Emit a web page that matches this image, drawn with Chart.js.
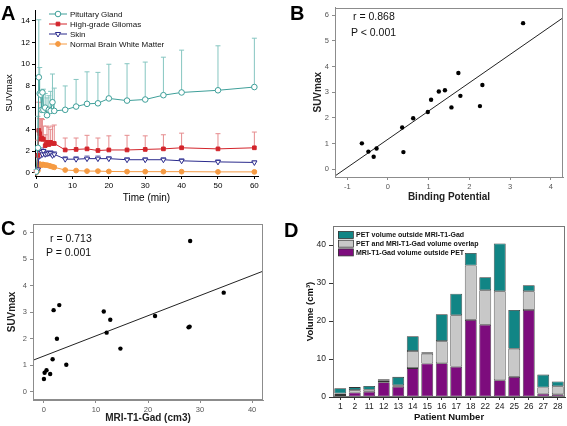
<!DOCTYPE html>
<html lang="en">
<head>
  <meta charset="UTF-8">
  <title>SUVmax panels</title>
  <script src="https://cdn.jsdelivr.net/npm/chart.js"></script>
  <style>
    body { margin: 0; width: 567px; height: 426px; position: relative; overflow: hidden; background: #fff;
           font-family: "Liberation Sans", Arial, sans-serif; }
    canvas { position: absolute; }
    .letter { position: absolute; font-weight: bold; font-size: 20px; line-height: 20px; color: #000; }
    .note { position: absolute; font-size: 10.5px; line-height: 12px; color: #111; }
  </style>
</head>
<body>
  <canvas id="chartA" width="283" height="212" style="left:0;top:0"></canvas>
  <canvas id="chartB" width="284" height="212" style="left:283px;top:0"></canvas>
  <canvas id="chartC" width="283" height="214" style="left:0;top:212px"></canvas>
  <canvas id="chartD" width="284" height="214" style="left:283px;top:212px"></canvas>

  <div class="letter" style="left:1px;top:3px">A</div>
  <div class="letter" style="left:290px;top:3px">B</div>
  <div class="letter" style="left:1px;top:218px">C</div>
  <div class="letter" style="left:284px;top:220px">D</div>
  <div class="note" style="left:353px;top:10px">r = 0.868</div>
  <div class="note" style="left:351px;top:26px">P &lt; 0.001</div>
  <div class="note" style="left:50px;top:232px">r = 0.713</div>
  <div class="note" style="left:46px;top:246px">P = 0.001</div>

  <script>
    /* Panel A: time activity curves (mean and top of error bar) */
    const times = [0, 0.5, 0.75, 1, 1.25, 1.5, 1.75, 2, 2.5, 3, 3.5, 4, 4.5, 5, 8, 11, 14, 17, 20, 25, 30, 35, 40, 50, 60]
    const pituitary = [0.1, 2.3, 8.8, 7.3, 7.2, 5.8, 7.4, 5.8, 6.0, 5.3, 5.8, 5.7, 6.5, 5.7, 5.8, 6.1, 6.35, 6.4, 6.85, 6.65, 6.75, 7.15, 7.4, 7.6, 7.9]
    const pituitaryTop = [0.3, 5.2, 14.1, 9.7, 7.5, 7.6, 7.6, 7.7, 7.3, 6.9, 7.1, 7.5, 9.1, 7.8, 8.0, 8.6, 9.3, 9.25, 10.0, 10.05, 10.2, 10.65, 11.3, 11.7, 12.4]
    const glioma = [0.1, 1.6, 3.9, 3.6, 3.1, 3.2, 3.1, 3.1, 2.5, 2.8, 2.6, 2.8, 2.7, 2.7, 2.1, 2.15, 2.2, 2.05, 2.1, 2.1, 2.15, 2.2, 2.3, 2.2, 2.3]
    const gliomaTop = [0.2, 3.0, 6.5, 5.0, 5.0, 5.0, 4.9, 4.3, 3.5, 4.3, 4.2, 4.0, 4.3, 4.4, 3.2, 3.2, 3.45, 3.2, 3.4, 3.45, 3.4, 3.5, 3.65, 3.6, 3.75]
    const skin = [0.05, 0.3, 1.5, 1.8, 1.6, 1.9, 1.7, 2.0, 1.7, 1.75, 1.8, 1.8, 1.6, 1.7, 1.25, 1.25, 1.3, 1.3, 1.3, 1.2, 1.2, 1.2, 1.1, 1.0, 0.95]
    const skinTop = [0.1, 0.5, 1.8, 2.1, 1.9, 2.2, 2.0, 2.3, 2.0, 2.0, 2.05, 2.05, 1.9, 1.95, 1.5, 1.5, 1.55, 1.55, 1.5, 1.4, 1.4, 1.4, 1.3, 1.2, 1.1]
    const whiteMatter = [0, 0.2, 0.6, 0.8, 0.75, 0.7, 0.75, 0.75, 0.7, 0.7, 0.65, 0.6, 0.55, 0.5, 0.25, 0.2, 0.15, 0.15, 0.12, 0.1, 0.1, 0.1, 0.1, 0.08, 0.08]
    const whiteMatterTop = [0.05, 0.3, 0.75, 0.95, 0.9, 0.85, 0.9, 0.9, 0.85, 0.85, 0.8, 0.75, 0.7, 0.65, 0.35, 0.3, 0.25, 0.25, 0.2, 0.18, 0.18, 0.18, 0.17, 0.15, 0.15]
    const timeTicks = [0, 10, 20, 30, 40, 50, 60]
    const suvTicksA = [0, 2, 4, 6, 8, 10, 12, 14]

    /* Panel B: binding potential vs SUVmax */
    const bindingPotential = [-0.64, -0.48, -0.35, -0.28, 0.35, 0.38, 0.62, 0.98, 1.06, 1.25, 1.40, 1.56, 1.73, 1.78, 2.26, 2.32, 3.32]
    const suvB = [1.01, 0.69, 0.49, 0.81, 1.63, 0.67, 1.99, 2.23, 2.71, 3.03, 3.08, 2.41, 3.75, 2.86, 2.46, 3.28, 5.69]
    const fitBx = [-1.3, 4.3]
    const fitBy = [-0.26, 5.9]
    const bpTicks = [-1, 0, 1, 2, 3, 4]
    const suvTicks = [0, 1, 2, 3, 4, 5, 6]

    /* Panel C: MRI-T1-Gad volume vs SUVmax */
    const gadVolume = [0, 0.13, 0.5, 1.2, 1.67, 1.86, 2.5, 2.95, 4.3, 11.5, 12.05, 12.75, 14.7, 21.35, 27.8, 28.0, 28.1, 34.55]
    const suvC = [0.48, 0.72, 0.81, 0.67, 1.23, 3.08, 2.0, 3.27, 1.02, 3.03, 2.23, 2.72, 1.63, 2.86, 2.43, 2.46, 5.69, 3.74]
    const fitCx = [-2.1, 42.1]
    const fitCy = [1.19, 4.55]
    const gadTicks = [0, 10, 20, 30, 40]

    /* Panel D: volumes per patient */
    const patients = ["1", "2", "11", "12", "13", "14", "15", "16", "17", "18", "22", "24", "25", "26", "27", "28"]
    const mriOutsidePet = [0.5, 1.2, 1.4, 3.9, 2.7, 7.6, 8.8, 8.9, 8.0, 20.3, 19.0, 4.4, 5.3, 22.9, 0.9, 0.7]
    const overlap = [0.4, 0.6, 0.5, 0.4, 0.4, 4.5, 2.6, 5.8, 13.5, 14.3, 9.1, 23.4, 7.4, 4.9, 1.6, 2.1]
    const petOutsideMri = [1.4, 0.8, 1.0, 0.4, 2.2, 3.9, 0.4, 7.1, 5.7, 3.3, 3.4, 12.6, 10.2, 1.6, 3.4, 1.3]
    const volumeTicks = [0, 10, 20, 30, 40]

    const FONT = '"Liberation Sans", Arial, sans-serif'
    Chart.defaults.font.family = FONT
    Chart.defaults.color = '#000'

    const pairs = (xs, ys) => xs.map((x, i) => ({ x: x, y: ys[i] }))
    const fixTicks = list => scale => { scale.ticks = list.map(v => ({ value: v })) }

    /* draws the upper error bar of each point */
    const errorBars = {
      id: 'errorBars',
      beforeDatasetsDraw(chart) {
        const ctx = chart.ctx
        const yScale = chart.scales.y
        chart.data.datasets.forEach((ds, i) => {
          if (!ds.upper) return
          const meta = chart.getDatasetMeta(i)
          ctx.save()
          ctx.strokeStyle = ds.errColor
          ctx.lineWidth = 1
          meta.data.forEach((pt, j) => {
            const top = yScale.getPixelForValue(ds.upper[j])
            ctx.beginPath()
            ctx.moveTo(pt.x, pt.y)
            ctx.lineTo(pt.x, top)
            ctx.moveTo(pt.x - 2.5, top)
            ctx.lineTo(pt.x + 2.5, top)
            ctx.stroke()
          })
          ctx.restore()
        })
      }
    }

    /* legend with line + marker, inside panel A */
    const lineLegend = {
      id: 'lineLegend',
      afterDraw(chart, args, opts) {
        const ctx = chart.ctx
        ctx.save()
        chart.data.datasets.forEach((ds, i) => {
          const y = opts.y + i * opts.gap
          ctx.strokeStyle = ds.borderColor
          ctx.lineWidth = 1
          ctx.beginPath()
          ctx.moveTo(opts.x, y)
          ctx.lineTo(opts.x + 18, y)
          ctx.stroke()
          ctx.fillStyle = ds.pointBackgroundColor
          ctx.strokeStyle = ds.pointBorderColor
          Chart.helpers.drawPoint(ctx, {
            pointStyle: ds.pointStyle, rotation: ds.pointRotation || 0,
            radius: ds.pointRadius, borderWidth: 1
          }, opts.x + 9, y)
          ctx.fillStyle = '#111'
          ctx.font = '8px ' + FONT
          ctx.textBaseline = 'middle'
          ctx.fillText(ds.label, opts.x + 21, y + 0.5)
        })
        ctx.restore()
      }
    }

    /* box round the plot area */
    const frame = {
      id: 'frame',
      afterDraw(chart, args, opts) {
        const { left, top, right, bottom } = chart.chartArea
        const ctx = chart.ctx
        ctx.save()
        ctx.strokeStyle = opts.color
        ctx.lineWidth = 1
        ctx.strokeRect(Math.round(left) + 0.5, Math.round(top) + 0.5, Math.round(right - left) - 1, Math.round(bottom - top) - 1)
        ctx.restore()
      }
    }

    /* box legend, inside panel D */
    const boxLegend = {
      id: 'boxLegend',
      afterDraw(chart, args, opts) {
        const ctx = chart.ctx
        const sets = chart.data.datasets.slice().reverse()
        ctx.save()
        sets.forEach((ds, i) => {
          const y = opts.y + i * opts.gap
          ctx.fillStyle = ds.backgroundColor
          ctx.strokeStyle = '#333'
          ctx.lineWidth = 0.8
          ctx.fillRect(opts.x, y - 3.5, 15, 7)
          ctx.strokeRect(opts.x + 0.5, y - 3.5, 15, 7)
          ctx.fillStyle = '#111'
          ctx.font = 'bold 7px ' + FONT
          ctx.textBaseline = 'middle'
          ctx.fillText(ds.label, opts.x + 18, y + 0.5)
        })
        ctx.restore()
      }
    }

    const baseOptions = {
      responsive: false,
      animation: false,
      devicePixelRatio: 1,
      events: [],
    }

    /* Panel A */
    const seriesA = (label, values, tops, color, errColor, style, fill, radius, rotation) => ({
      label: label,
      data: pairs(times, values),
      upper: tops,
      errColor: errColor,
      showLine: true,
      borderColor: color,
      borderWidth: 1,
      pointStyle: style,
      pointRotation: rotation || 0,
      pointRadius: radius,
      pointBorderWidth: 1,
      pointBorderColor: color,
      pointBackgroundColor: fill,
    })

    new Chart(document.getElementById('chartA'), {
      type: 'scatter',
      data: {
        datasets: [
          seriesA('Pituitary Gland', pituitary, pituitaryTop, '#3e9f99', '#86c6c1', 'circle', '#fff', 2.8),
          seriesA('High-grade Gliomas', glioma, gliomaTop, '#d3242b', '#e68c8e', 'rect', '#d3242b', 2.6),
          seriesA('Skin', skin, skinTop, '#2a2a8c', '#8a8ac4', 'triangle', '#fff', 3, 180),
          seriesA('Normal Brain White Matter', whiteMatter, whiteMatterTop, '#f59a42', '#f9c995', 'circle', '#f59a42', 2.4),
        ]
      },
      options: Object.assign({}, baseOptions, {
        layout: { padding: { left: 0, top: 10, right: 25, bottom: 0 } },
        plugins: {
          legend: { display: false },
          tooltip: { enabled: false },
          lineLegend: { x: 49, y: 14, gap: 10 },
        },
        scales: {
          x: {
            type: 'linear', min: -0.3, max: 61,
            afterBuildTicks: fixTicks(timeTicks),
            afterFit: s => { s.height = 36 },
            grid: { drawOnChartArea: false, drawTicks: true, tickLength: 3, tickColor: '#000' },
            border: { display: true, color: '#000' },
            ticks: { font: { size: 8 }, padding: 2, maxRotation: 0 },
            title: { display: true, text: 'Time (min)', font: { size: 10 }, padding: { top: 0, bottom: 8 } },
          },
          y: {
            type: 'linear', min: -0.3, max: 15,
            afterBuildTicks: fixTicks(suvTicksA),
            afterFit: s => { s.width = 35 },
            grid: { drawOnChartArea: false, drawTicks: true, tickLength: 3, tickColor: '#000' },
            border: { display: true, color: '#000' },
            ticks: { font: { size: 8 }, padding: 2 },
            title: { display: true, text: 'SUVmax', font: { size: 9.5 }, padding: { top: 4, bottom: 0 } },
          },
        }
      }),
      plugins: [errorBars, lineLegend],
    })

    /* Panels B and C share one style */
    const scatterChart = (id, xs, ys, fitX, fitY, xTicks, yTicks, xRange, yRange, pad, yWidth, xHeight, xTitle, xTitlePad, yTitlePad) => {
      new Chart(document.getElementById(id), {
        type: 'scatter',
        data: {
          datasets: [
            {
              data: pairs(xs, ys),
              pointRadius: 2.2,
              pointBackgroundColor: '#000',
              pointBorderWidth: 0,
            },
            {
              data: pairs(fitX, fitY),
              showLine: true,
              borderColor: '#222',
              borderWidth: 1,
              pointRadius: 0,
            },
          ]
        },
        options: Object.assign({}, baseOptions, {
          layout: { padding: pad },
          plugins: {
            legend: { display: false },
            tooltip: { enabled: false },
            frame: { color: '#8c8c8c' },
          },
          scales: {
            x: {
              type: 'linear', min: xRange[0], max: xRange[1],
              afterBuildTicks: fixTicks(xTicks),
              afterFit: s => { s.height = xHeight },
              grid: { drawOnChartArea: false, drawTicks: true, tickLength: 3, tickColor: '#8c8c8c' },
              border: { display: true, color: '#8c8c8c' },
              ticks: { font: { size: 7.5 }, color: '#555', padding: 2, maxRotation: 0 },
              title: { display: true, text: xTitle, font: { size: 10, weight: 'bold' }, color: '#222', padding: xTitlePad },
            },
            y: {
              type: 'linear', min: yRange[0], max: yRange[1],
              afterBuildTicks: fixTicks(yTicks),
              afterFit: s => { s.width = yWidth },
              grid: { drawOnChartArea: false, drawTicks: true, tickLength: 3, tickColor: '#8c8c8c' },
              border: { display: true, color: '#8c8c8c' },
              ticks: { font: { size: 7.5 }, color: '#555', padding: 3 },
              title: { display: true, text: 'SUVmax', font: { size: 10, weight: 'bold' }, color: '#222', padding: yTitlePad },
            },
          }
        }),
        plugins: [frame],
      })
    }

    scatterChart('chartB', bindingPotential, suvB, fitBx, fitBy, bpTicks, suvTicks, [-1.3, 4.3], [-0.3, 6.3],
      { left: 20, top: 2, right: 1, bottom: 0 }, 32, 35, 'Binding Potential',
      { top: 0, bottom: 9 }, { top: 9, bottom: 0 })

    scatterChart('chartC', gadVolume, suvC, fitCx, fitCy, gadTicks, suvTicks, [-2.1, 42.1], [-0.31, 6.33],
      { left: 0, top: 12, right: 20, bottom: 0 }, 33, 26, 'MRI-T1-Gad (cm3)',
      { top: 0, bottom: 2 }, { top: 6.5, bottom: 0 })

    /* Panel D */
    const barSet = (label, values, color) => ({
      label: label,
      data: values,
      backgroundColor: color,
      borderColor: '#333',
      borderWidth: 0.8,
      borderSkipped: false,
      barPercentage: 0.82,
      categoryPercentage: 1,
    })

    new Chart(document.getElementById('chartD'), {
      type: 'bar',
      data: {
        labels: patients,
        datasets: [
          barSet('MRI-T1-Gad volume outside PET', mriOutsidePet, '#7d0c7d'),
          barSet('PET and MRI-T1-Gad volume overlap', overlap, '#c8c8c8'),
          barSet('PET volume outside MRI-T1-Gad', petOutsideMri, '#118585'),
        ]
      },
      options: Object.assign({}, baseOptions, {
        layout: { padding: { left: 14, top: 14, right: 2, bottom: 0 } },
        plugins: {
          legend: { display: false },
          tooltip: { enabled: false },
          frame: { color: '#777' },
          boxLegend: { x: 55, y: 23, gap: 8.7 },
        },
        scales: {
          x: {
            stacked: true,
            afterFit: s => { s.height = 29 },
            grid: { offset: false, drawOnChartArea: false, drawTicks: true, tickLength: 3, tickColor: '#333' },
            border: { display: true, color: '#333' },
            ticks: { font: { size: 8.5 }, color: '#222', padding: 2, maxRotation: 0, autoSkip: false },
            title: { display: true, text: 'Patient Number', font: { size: 9.5, weight: 'bold' }, color: '#111', padding: { top: 0, bottom: 3 } },
          },
          y: {
            stacked: true, min: 0, max: 45,
            afterBuildTicks: fixTicks(volumeTicks),
            afterFit: s => { s.width = 36 },
            grid: { drawOnChartArea: false, drawTicks: true, tickLength: 4, tickColor: '#333' },
            border: { display: true, color: '#333' },
            ticks: { font: { size: 8.5 }, color: '#222', padding: 3 },
            title: { display: true, text: 'Volume (cm³)', font: { size: 9.5, weight: 'bold' }, color: '#111', padding: { top: 8, bottom: 0 } },
          },
        }
      }),
      plugins: [frame, boxLegend],
    })
  </script>
</body>
</html>
